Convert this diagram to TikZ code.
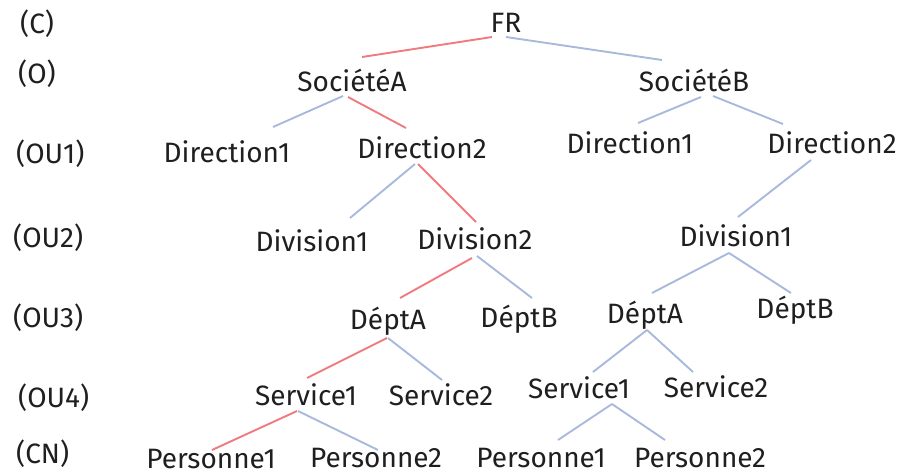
\documentclass[tikz,border=0pt]{standalone}
\usepackage{fontspec}
\setmainfont{Fira Sans}
\begin{document}
\begin{tikzpicture}[x=1pt,y=-1pt,
  lbl/.style={anchor=base,inner sep=0pt,text=black!88,font=\fontsize{28}{30}\selectfont},
  lvl/.style={lbl,anchor=base west},
  redl/.style={draw={rgb,255:red,240;green,122;blue,126},line width=1.9pt},
  bluel/.style={draw={rgb,255:red,168;green,185;blue,220},line width=1.9pt}]
\useasboundingbox (0,0) rectangle (911,474);

% level labels
\node[lvl] (lc)  at (20,33)  {(C)};
\node[lvl] (lo)  at (18,83)  {(O)};
\node[lvl] (lu1) at (16,163) {(OU1)};
\node[lvl] (lu2) at (13,247) {(OU2)};
\node[lvl] (lu3) at (13,327) {(OU3)};
\node[lvl] (lu4) at (18,407) {(OU4)};
\node[lvl] (lcn) at (16,463) {(CN)};

% tree nodes
\node[lbl] (fr)   at (506,32)  {FR};
\node[lbl] (socA) at (352,91)  {SociétéA};
\node[lbl] (socB) at (694,91)  {SociétéB};
\node[lbl] (dA1)  at (227,162) {Direction1};
\node[lbl] (dA2)  at (422,158) {Direction2};
\node[lbl] (dB1)  at (630,153) {Direction1};
\node[lbl] (dB2)  at (832,153) {Direction2};
\node[lbl] (vA1)  at (312,251) {Division1};
\node[lbl] (vA2)  at (475,249) {Division2};
\node[lbl] (vB1)  at (736,246) {Division1};
\node[lbl] (tA)   at (388,329) {DéptA};
\node[lbl] (tB)   at (519,327) {DéptB};
\node[lbl] (tC)   at (645,323) {DéptA};
\node[lbl] (tD)   at (795,318) {DéptB};
\node[lbl] (sA1)  at (306,405) {Service1};
\node[lbl] (sA2)  at (441,405) {Service2};
\node[lbl] (sB1)  at (579,398) {Service1};
\node[lbl] (sB2)  at (716,397) {Service2};
\node[lbl] (pA1)  at (211,468) {Personne1};
\node[lbl] (pA2)  at (376,467) {Personne2};
\node[lbl] (pB1)  at (541,467) {Personne1};
\node[lbl] (pB2)  at (700,467) {Personne2};

% branches (red: highlighted path)
\draw[redl]  ([shift={(-14,5)}]fr.base)   -- ([shift={(10,-34)}]socA.base);
\draw[bluel] ([shift={(0,5)}]fr.base)     -- ([shift={(-32,-31)}]socB.base);
\draw[bluel] ([shift={(-9,5)}]socA.base)  -- ([shift={(46,-35)}]dA1.base);
\draw[redl]  ([shift={(-4,6)}]socA.base)  -- ([shift={(-16,-30)}]dA2.base);
\draw[bluel] ([shift={(7,6)}]socB.base)   -- ([shift={(8,-30)}]dB1.base);
\draw[bluel] ([shift={(19,5)}]socB.base)  -- ([shift={(-49,-29)}]dB2.base);
\draw[bluel] ([shift={(-7,6)}]dA2.base)   -- ([shift={(38,-33)}]vA1.base);
\draw[redl]  ([shift={(-4,6)}]dA2.base)   -- ([shift={(1,-27)}]vA2.base);
\draw[bluel] ([shift={(-21,7)}]dB2.base)  -- ([shift={(2,-29)}]vB1.base);
\draw[redl]  ([shift={(-3,9)}]vA2.base)   -- ([shift={(12,-31)}]tA.base);
\draw[bluel] ([shift={(2,7)}]vA2.base)    -- ([shift={(13,-29)}]tB.base);
\draw[bluel] ([shift={(-7,7)}]vB1.base)   -- ([shift={(7,-30)}]tC.base);
\draw[bluel] ([shift={(-7,7)}]vB1.base)   -- ([shift={(-4,-25)}]tD.base);
\draw[redl]  ([shift={(-1,9)}]tA.base)    -- ([shift={(1,-27)}]sA1.base);
\draw[bluel] ([shift={(0,9)}]tA.base)     -- ([shift={(1,-25)}]sA2.base);
\draw[bluel] ([shift={(2,7)}]tC.base)     -- ([shift={(14,-26)}]sB1.base);
\draw[bluel] ([shift={(2,7)}]tC.base)     -- ([shift={(-23,-25)}]sB2.base);
\draw[redl]  ([shift={(-9,6)}]sA1.base)   -- ([shift={(1,-18)}]pA1.base);
\draw[bluel] ([shift={(-8,6)}]sA1.base)   -- ([shift={(2,-17)}]pA2.base);
\draw[bluel] ([shift={(33,6)}]sB1.base)   -- ([shift={(17,-27)}]pB1.base);
\draw[bluel] ([shift={(33,6)}]sB1.base)   -- ([shift={(-35,-27)}]pB2.base);
\end{tikzpicture}
\end{document}
